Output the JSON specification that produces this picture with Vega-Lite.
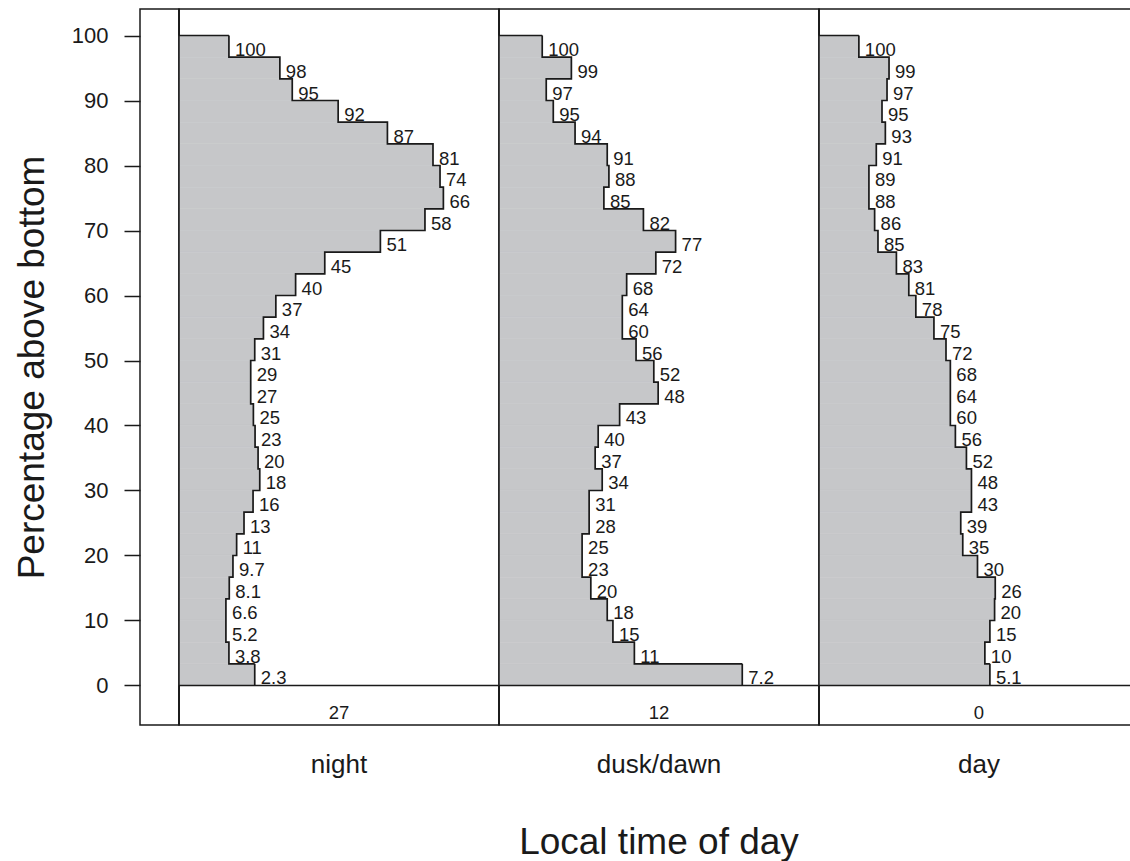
{
  "$schema": "https://vega.github.io/schema/vega-lite/v6.json",
  "padding": {"left": 12, "top": 7, "right": 0, "bottom": 0},
  "background": "white",
  "bounds": "flush",
  "config": {
    "font": "Liberation Sans",
    "view": {"stroke": "#1a1a1a", "strokeWidth": 1.5},
    "concat": {"spacing": 0},
    "facet": {"spacing": 0}
  },
  "spacing": 0,
  "datasets": {
    "d": [
      {"p":"night","hi":100,"lo":96.667,"w":1.49,"lab":"100"},
      {"p":"night","hi":96.667,"lo":93.333,"w":3.01,"lab":"98"},
      {"p":"night","hi":93.333,"lo":90,"w":3.38,"lab":"95"},
      {"p":"night","hi":90,"lo":86.667,"w":4.75,"lab":"92"},
      {"p":"night","hi":86.667,"lo":83.333,"w":6.22,"lab":"87"},
      {"p":"night","hi":83.333,"lo":80,"w":7.58,"lab":"81"},
      {"p":"night","hi":80,"lo":76.667,"w":7.79,"lab":"74"},
      {"p":"night","hi":76.667,"lo":73.333,"w":7.89,"lab":"66"},
      {"p":"night","hi":73.333,"lo":70,"w":7.34,"lab":"58"},
      {"p":"night","hi":70,"lo":66.667,"w":6.01,"lab":"51"},
      {"p":"night","hi":66.667,"lo":63.333,"w":4.35,"lab":"45"},
      {"p":"night","hi":63.333,"lo":60,"w":3.48,"lab":"40"},
      {"p":"night","hi":60,"lo":56.667,"w":2.89,"lab":"37"},
      {"p":"night","hi":56.667,"lo":53.333,"w":2.52,"lab":"34"},
      {"p":"night","hi":53.333,"lo":50,"w":2.26,"lab":"31"},
      {"p":"night","hi":50,"lo":46.667,"w":2.14,"lab":"29"},
      {"p":"night","hi":46.667,"lo":43.333,"w":2.14,"lab":"27"},
      {"p":"night","hi":43.333,"lo":40,"w":2.22,"lab":"25"},
      {"p":"night","hi":40,"lo":36.667,"w":2.27,"lab":"23"},
      {"p":"night","hi":36.667,"lo":33.333,"w":2.36,"lab":"20"},
      {"p":"night","hi":33.333,"lo":30,"w":2.41,"lab":"18"},
      {"p":"night","hi":30,"lo":26.667,"w":2.21,"lab":"16"},
      {"p":"night","hi":26.667,"lo":23.333,"w":1.94,"lab":"13"},
      {"p":"night","hi":23.333,"lo":20,"w":1.72,"lab":"11"},
      {"p":"night","hi":20,"lo":16.667,"w":1.61,"lab":"9.7"},
      {"p":"night","hi":16.667,"lo":13.333,"w":1.50,"lab":"8.1"},
      {"p":"night","hi":13.333,"lo":10,"w":1.40,"lab":"6.6"},
      {"p":"night","hi":10,"lo":6.667,"w":1.40,"lab":"5.2"},
      {"p":"night","hi":6.667,"lo":3.333,"w":1.49,"lab":"3.8"},
      {"p":"night","hi":3.333,"lo":0,"w":2.26,"lab":"2.3"},
      {"p":"dusk/dawn","hi":100,"lo":96.667,"w":1.29,"lab":"100"},
      {"p":"dusk/dawn","hi":96.667,"lo":93.333,"w":2.16,"lab":"99"},
      {"p":"dusk/dawn","hi":93.333,"lo":90,"w":1.41,"lab":"97"},
      {"p":"dusk/dawn","hi":90,"lo":86.667,"w":1.62,"lab":"95"},
      {"p":"dusk/dawn","hi":86.667,"lo":83.333,"w":2.27,"lab":"94"},
      {"p":"dusk/dawn","hi":83.333,"lo":80,"w":3.23,"lab":"91"},
      {"p":"dusk/dawn","hi":80,"lo":76.667,"w":3.28,"lab":"88"},
      {"p":"dusk/dawn","hi":76.667,"lo":73.333,"w":3.13,"lab":"85"},
      {"p":"dusk/dawn","hi":73.333,"lo":70,"w":4.31,"lab":"82"},
      {"p":"dusk/dawn","hi":70,"lo":66.667,"w":5.27,"lab":"77"},
      {"p":"dusk/dawn","hi":66.667,"lo":63.333,"w":4.68,"lab":"72"},
      {"p":"dusk/dawn","hi":63.333,"lo":60,"w":3.81,"lab":"68"},
      {"p":"dusk/dawn","hi":60,"lo":56.667,"w":3.68,"lab":"64"},
      {"p":"dusk/dawn","hi":56.667,"lo":53.333,"w":3.68,"lab":"60"},
      {"p":"dusk/dawn","hi":53.333,"lo":50,"w":4.09,"lab":"56"},
      {"p":"dusk/dawn","hi":50,"lo":46.667,"w":4.62,"lab":"52"},
      {"p":"dusk/dawn","hi":46.667,"lo":43.333,"w":4.75,"lab":"48"},
      {"p":"dusk/dawn","hi":43.333,"lo":40,"w":3.60,"lab":"43"},
      {"p":"dusk/dawn","hi":40,"lo":36.667,"w":2.96,"lab":"40"},
      {"p":"dusk/dawn","hi":36.667,"lo":33.333,"w":2.87,"lab":"37"},
      {"p":"dusk/dawn","hi":33.333,"lo":30,"w":3.08,"lab":"34"},
      {"p":"dusk/dawn","hi":30,"lo":26.667,"w":2.69,"lab":"31"},
      {"p":"dusk/dawn","hi":26.667,"lo":23.333,"w":2.69,"lab":"28"},
      {"p":"dusk/dawn","hi":23.333,"lo":20,"w":2.48,"lab":"25"},
      {"p":"dusk/dawn","hi":20,"lo":16.667,"w":2.48,"lab":"23"},
      {"p":"dusk/dawn","hi":16.667,"lo":13.333,"w":2.74,"lab":"20"},
      {"p":"dusk/dawn","hi":13.333,"lo":10,"w":3.23,"lab":"18"},
      {"p":"dusk/dawn","hi":10,"lo":6.667,"w":3.40,"lab":"15"},
      {"p":"dusk/dawn","hi":6.667,"lo":3.333,"w":4.04,"lab":"11"},
      {"p":"dusk/dawn","hi":3.333,"lo":0,"w":7.26,"lab":"7.2"},
      {"p":"day","hi":100,"lo":96.667,"w":1.19,"lab":"100"},
      {"p":"day","hi":96.667,"lo":93.333,"w":2.09,"lab":"99"},
      {"p":"day","hi":93.333,"lo":90,"w":2.03,"lab":"97"},
      {"p":"day","hi":90,"lo":86.667,"w":1.88,"lab":"95"},
      {"p":"day","hi":86.667,"lo":83.333,"w":1.98,"lab":"93"},
      {"p":"day","hi":83.333,"lo":80,"w":1.71,"lab":"91"},
      {"p":"day","hi":80,"lo":76.667,"w":1.49,"lab":"89"},
      {"p":"day","hi":76.667,"lo":73.333,"w":1.49,"lab":"88"},
      {"p":"day","hi":73.333,"lo":70,"w":1.66,"lab":"86"},
      {"p":"day","hi":70,"lo":66.667,"w":1.76,"lab":"85"},
      {"p":"day","hi":66.667,"lo":63.333,"w":2.31,"lab":"83"},
      {"p":"day","hi":63.333,"lo":60,"w":2.68,"lab":"81"},
      {"p":"day","hi":60,"lo":56.667,"w":2.89,"lab":"78"},
      {"p":"day","hi":56.667,"lo":53.333,"w":3.43,"lab":"75"},
      {"p":"day","hi":53.333,"lo":50,"w":3.79,"lab":"72"},
      {"p":"day","hi":50,"lo":46.667,"w":3.92,"lab":"68"},
      {"p":"day","hi":46.667,"lo":43.333,"w":3.92,"lab":"64"},
      {"p":"day","hi":43.333,"lo":40,"w":3.92,"lab":"60"},
      {"p":"day","hi":40,"lo":36.667,"w":4.07,"lab":"56"},
      {"p":"day","hi":36.667,"lo":33.333,"w":4.40,"lab":"52"},
      {"p":"day","hi":33.333,"lo":30,"w":4.55,"lab":"48"},
      {"p":"day","hi":30,"lo":26.667,"w":4.55,"lab":"43"},
      {"p":"day","hi":26.667,"lo":23.333,"w":4.23,"lab":"39"},
      {"p":"day","hi":23.333,"lo":20,"w":4.29,"lab":"35"},
      {"p":"day","hi":20,"lo":16.667,"w":4.73,"lab":"30"},
      {"p":"day","hi":16.667,"lo":13.333,"w":5.26,"lab":"26"},
      {"p":"day","hi":13.333,"lo":10,"w":5.24,"lab":"20"},
      {"p":"day","hi":10,"lo":6.667,"w":5.10,"lab":"15"},
      {"p":"day","hi":6.667,"lo":3.333,"w":4.95,"lab":"10"},
      {"p":"day","hi":3.333,"lo":0,"w":5.10,"lab":"5.1"},
      {"p":"night","n":"27"},
      {"p":"dusk/dawn","n":"12"},
      {"p":"day","n":"0"}
    ]
  },
  "hconcat": [
    {
      "width": 39,
      "height": 716,
      "data": {"values": [{"v": 0}]},
      "mark": {"type": "point", "opacity": 0},
      "encoding": {
        "y": {
          "field": "v", "type": "quantitative",
          "scale": {"domain": [-6.08, 104.08], "nice": false, "zero": false, "padding": 0},
          "axis": {
            "title": "Percentage above bottom",
            "values": [0, 10, 20, 30, 40, 50, 60, 70, 80, 90, 100],
            "tickSize": 16, "labelPadding": 16, "labelFontSize": 22,
            "titleFontSize": 37, "titleFontWeight": "normal", "titlePadding": 20,
            "domain": false, "grid": false,
            "tickColor": "#1a1a1a", "tickWidth": 1.5,
            "labelColor": "#1a1a1a", "titleColor": "#1a1a1a"
          }
        }
      }
    },
    {
      "data": {"name": "d"},
      "bounds": "flush",
      "facet": {
        "column": {
          "field": "p", "type": "nominal",
          "sort": ["night", "dusk/dawn", "day"],
          "header": {
            "title": "Local time of day", "titleOrient": "bottom", "labelOrient": "bottom",
            "labelFontSize": 26, "titleFontSize": 37, "titleFontWeight": "normal",
            "labelPadding": 27, "titlePadding": 37,
            "labelColor": "#1a1a1a", "titleColor": "#1a1a1a"
          }
        }
      },
      "spacing": 0,
      "spec": {
        "width": 320,
        "height": 716,
        "layer": [
          {
            "transform": [{"filter": "isValid(datum.w)"}],
            "mark": {"type": "bar", "orient": "horizontal", "fill": "#c6c7c9", "stroke": "#c6c7c9", "strokeWidth": 0.6},
            "encoding": {
              "x": {"field": "w", "type": "quantitative", "scale": {"domain": [0, 9.55], "nice": false, "zero": true, "padding": 0}, "axis": null},
              "y": {"field": "lo", "type": "quantitative", "scale": {"domain": [-6.08, 104.08], "nice": false, "zero": false, "padding": 0}, "axis": null},
              "y2": {"field": "hi"}
            }
          },
          {
            "transform": [{"filter": "isValid(datum.w)"}],
            "mark": {"type": "line", "interpolate": "step-before", "stroke": "#1a1a1a", "strokeWidth": 1.7},
            "encoding": {
              "x": {"field": "w", "type": "quantitative"},
              "y": {"field": "hi", "type": "quantitative"},
              "order": {"field": "hi", "sort": "descending"}
            }
          },
          {
            "transform": [{"filter": "datum.hi == 100"}],
            "mark": {"type": "rule", "stroke": "#1a1a1a", "strokeWidth": 1.7},
            "encoding": {
              "x": {"field": "w", "type": "quantitative"},
              "x2": {"datum": 0},
              "y": {"field": "hi", "type": "quantitative"}
            }
          },
          {
            "transform": [{"filter": "datum.lo == 0 && isValid(datum.w)"}],
            "mark": {"type": "rule", "stroke": "#1a1a1a", "strokeWidth": 1.7},
            "encoding": {
              "x": {"field": "w", "type": "quantitative"},
              "y": {"field": "lo", "type": "quantitative"},
              "y2": {"field": "hi"}
            }
          },
          {
            "transform": [{"filter": "datum.lo == 0 && isValid(datum.w)"}],
            "mark": {"type": "rule", "stroke": "#1a1a1a", "strokeWidth": 1.5},
            "encoding": {
              "y": {"field": "lo", "type": "quantitative"}
            }
          },
          {
            "transform": [{"filter": "datum.lo == 0 && isValid(datum.w)"}],
            "mark": {"type": "rule", "stroke": "#1a1a1a", "strokeWidth": 1.5},
            "encoding": {
              "x": {"datum": 0}
            }
          },
          {
            "transform": [{"filter": "isValid(datum.w)"}],
            "mark": {"type": "text", "align": "left", "baseline": "alphabetic", "dx": 6, "dy": -1, "fontSize": 18.5, "fill": "#1a1a1a"},
            "encoding": {
              "x": {"field": "w", "type": "quantitative"},
              "y": {"field": "lo", "type": "quantitative"},
              "text": {"field": "lab"}
            }
          },
          {
            "transform": [{"filter": "isValid(datum.n)"}],
            "mark": {"type": "text", "align": "center", "baseline": "alphabetic", "fontSize": 18.5, "fill": "#1a1a1a"},
            "encoding": {
              "x": {"datum": 4.775},
              "y": {"datum": -5.08},
              "text": {"field": "n"}
            }
          }
        ]
      }
    }
  ]
}
